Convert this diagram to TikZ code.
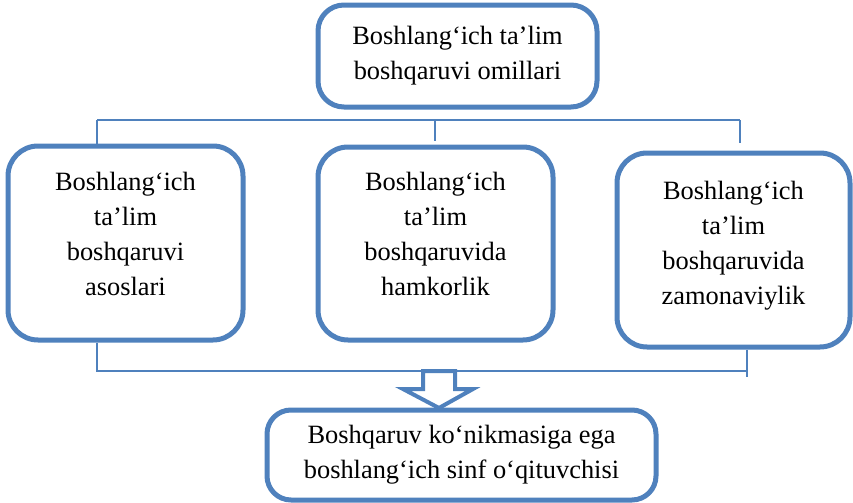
\documentclass[tikz,border=0pt]{standalone}
\usepackage{fontspec}
\setmainfont{Liberation Serif}
\usepackage{tikz}

\definecolor{boxblue}{RGB}{79,129,189}
\tikzset{
    box/.style={draw=boxblue, line width=2.5pt, rounded corners=15pt, fill=white,
        align=center, inner sep=2pt, font=\fontsize{13.2pt}{17.5pt}\selectfont},
    link/.style={draw=boxblue, line width=0.8pt},
    bigarrow/.style={draw=boxblue, line width=2pt, fill=white, line join=miter}
}

\begin{document}
\begin{tikzpicture}[x=0.5pt, y=-0.5pt]
    \useasboundingbox (0,0) rectangle (853,503);
    \node (top) at (457.5,56) [box, rounded corners=13pt, minimum width=139.5pt, minimum height=51pt] {Boshlang‘ich ta’lim\\boshqaruvi omillari};
    \node (asos) at (125.5,243) [box, minimum width=117.5pt, minimum height=97pt] {Boshlang‘ich\\ta’lim\\boshqaruvi\\asoslari\\[-8pt]\mbox{}};
    \node (hamk) at (435.5,243.5) [box, minimum width=117.5pt, minimum height=96.5pt] {Boshlang‘ich\\ta’lim\\boshqaruvida\\hamkorlik\\[-8pt]\mbox{}};
    \node (zamon) at (733.5,250) [box, minimum width=116.5pt, minimum height=97pt] {Boshlang‘ich\\ta’lim\\boshqaruvida\\zamonaviylik\\[-10pt]\mbox{}};
    \node (ustoz) at (461.5,455) [box, rounded corners=12pt, minimum width=194.5pt, minimum height=45pt] {Boshqaruv ko‘nikmasiga ega\\boshlang‘ich sinf o‘qituvchisi};
    % upper bus
    \coordinate (busL) at (97,120);
    \coordinate (busM) at (435,120);
    \coordinate (busR) at (740,120);
    \draw[link] (busL) -- (busR);
    \draw[link] (busL) -- (busL |- asos.north);
    \draw[link] (busM) -- ([yshift=2pt]busM |- hamk.north);
    \draw[link] (busR) -- ([yshift=4pt]busR |- zamon.north);
    % lower bus
    \coordinate (downL) at (97,371);
    \coordinate (downR) at (747,371);
    \coordinate (downEnd) at (747,377);
    \draw[link] (downL |- asos.south) -- (downL) -- (downR);
    \draw[link] (downR |- zamon.south) -- (downEnd);
    % block arrow
    \coordinate (tip) at (439,408);
    \draw[bigarrow] (423,371) -- (455,371) -- (455,389) -- (473,389) -- (tip)
        -- (403,389) -- (423,389) -- cycle;
\end{tikzpicture}
\end{document}
